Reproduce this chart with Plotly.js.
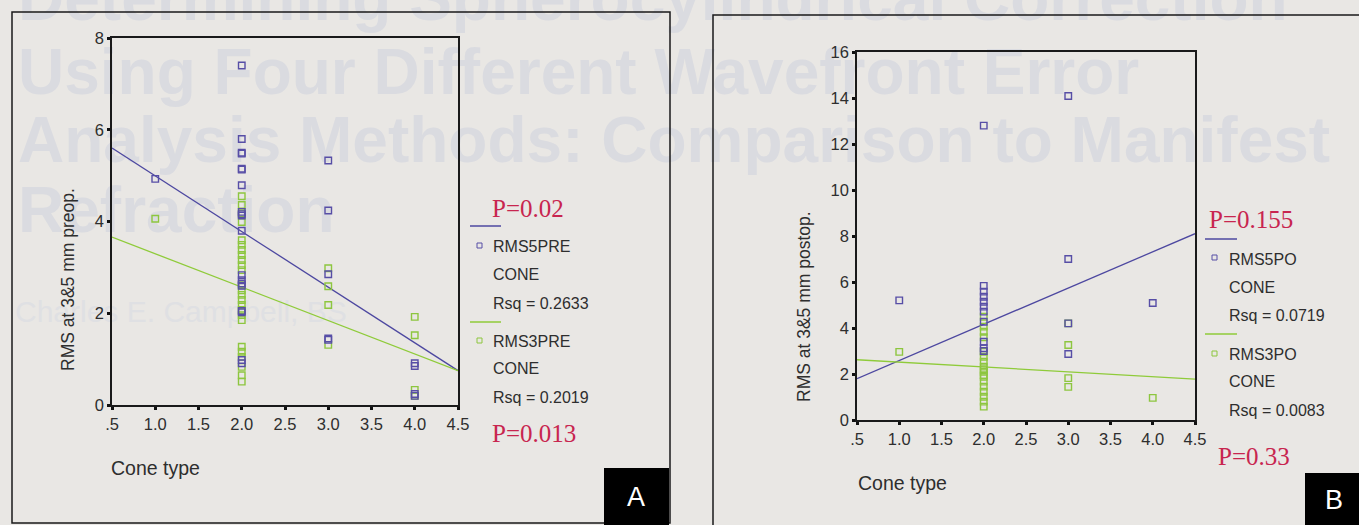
<!DOCTYPE html>
<html>
<head>
<meta charset="utf-8">
<script src="https://cdn.plot.ly/plotly-3.0.1.min.js"></script>
<style>
  html, body { margin: 0; padding: 0; background: #e9e7e4; }
  #wrap { position: relative; width: 1359px; height: 525px; overflow: hidden; }
  #bleed { position: absolute; left: 0; top: 0; width: 1359px; height: 525px; z-index: 0;
           font-family: "Liberation Sans", Arial, sans-serif; color: #dadbe0; white-space: nowrap; }
  #bleed div { position: absolute; font-weight: bold; font-size: 64px; line-height: 1; }
  #chart { position: absolute; left: 0; top: 0; z-index: 1; }
</style>
</head>
<body>
<div id="wrap">
  <div id="bleed">
    <div style="left:18px; top:-34px;">Determining Spherocylindrical Correction</div>
    <div style="left:18px; top:40px;">Using Four Different Wavefront Error</div>
    <div style="left:18px; top:108px;">Analysis Methods: Comparison to Manifest</div>
    <div style="left:18px; top:178px;">Refraction</div>
    <div style="left:15px; top:297px; font-weight:normal; font-size:30px; color:#dfe0e3;">Charles E. Campbell, BS</div>
  </div>
  <div id="chart"></div>
</div>
<script>
// ---------- Panel A (preop) ----------
const coneA5 = [1,
  2,2,2,2,2,2,2,2,2,2,2,2,2,2,2,2,2,2,2,
  3,3,3,3,3,
  4,4,4,4];
const rms5pre = [4.93,
  7.40,5.80,5.50,5.48,5.15,5.13,4.79,4.21,4.16,4.13,3.80,2.83,2.72,2.65,2.60,2.05,2.02,0.98,0.91,
  5.33,4.24,2.85,1.45,1.42,
  0.91,0.85,0.24,0.20];

const coneA3 = [1,
  2,2,2,2,2,2,2,2,2,2,2,2,2,2,2,2,2,2,2,2,2,2,2,2,2,
  3,3,3,3,
  4,4,4,4];
const rms3pre = [4.06,
  4.55,4.36,4.18,3.99,3.59,3.49,3.38,3.27,3.16,3.05,2.94,2.61,2.50,2.40,2.29,2.18,2.07,1.96,1.85,1.27,1.16,1.05,0.83,0.65,0.51,
  2.98,2.59,2.18,1.31,
  1.92,1.52,0.33,0.20];

const fitX = [0.5, 4.5];
const fitA5 = [5.60, 0.75];
const fitA3 = [3.66, 0.75];

// ---------- Panel B (postop) ----------
const coneB5 = [1,
  2,2,2,2,2,2,2,2,2,2,2,
  3,3,3,3,
  4];
const rms5po = [5.20,
  12.80,5.83,5.58,5.36,5.14,4.93,4.71,4.27,3.40,3.12,3.00,
  14.09,7.00,4.20,2.87,
  5.09];

const coneB3 = [1,
  2,2,2,2,2,2,2,2,2,2,2,2,2,2,2,2,2,2,
  3,3,3,3,
  4];
const rms3po = [2.96,
  4.49,4.06,3.84,3.60,2.97,2.75,2.54,2.32,2.20,2.10,1.95,1.88,1.67,1.45,1.23,1.01,0.80,0.58,
  4.20,3.26,1.82,1.44,
  0.96];

const fitB5 = [1.80, 8.10];
const fitB3 = [2.62, 1.78];

const xTickVals = [0.5,1,1.5,2,2.5,3,3.5,4,4.5];
const xTickText = ['.5','1.0','1.5','2.0','2.5','3.0','3.5','4.0','4.5'];

// legend / label texts
const legA = ['RMS5PRE','CONE','Rsq = 0.2633','RMS3PRE','CONE','Rsq = 0.2019'];
const legB = ['RMS5PO','CONE','Rsq = 0.0719','RMS3PO','CONE','Rsq = 0.0083'];
const pA = ['P=0.02','P=0.013'];
const pB = ['P=0.155','P=0.33'];

// ---------- styling ----------
const W = 1359, H = 525;
const px = v => v / W;
const py = v => 1 - v / H;
const BLUE = '#574ea6';
const GREEN = '#8dc63f';
const BLUE_LINE = '#4d48a0';
const GREEN_LINE = '#8fcb3a';
const RED = '#c8254f';
const TXT = '#2e2e2e';
const SANS = 'Liberation Sans, Arial, sans-serif';
const SERIF = 'Liberation Serif, Times New Roman, serif';

function pts(x, y, color, xa, ya) {
  return {x: x, y: y, xaxis: xa, yaxis: ya, type: 'scatter', mode: 'markers', hoverinfo: 'x+y',
    marker: {symbol: 'square-open', size: 6.5, color: color, line: {width: 1.4, color: color}},
    showlegend: false, cliponaxis: false};
}
function fit(y, color, xa, ya) {
  return {x: fitX, y: y, xaxis: xa, yaxis: ya, type: 'scatter', mode: 'lines',
    line: {color: color, width: 1.3}, showlegend: false, hoverinfo: 'skip'};
}

const data = [
  fit(fitA5, BLUE_LINE, 'x', 'y'),
  fit(fitA3, GREEN_LINE, 'x', 'y'),
  pts(coneA3, rms3pre, GREEN, 'x', 'y'),
  pts(coneA5, rms5pre, BLUE, 'x', 'y'),
  fit(fitB5, BLUE_LINE, 'x2', 'y2'),
  fit(fitB3, GREEN_LINE, 'x2', 'y2'),
  pts(coneB3, rms3po, GREEN, 'x2', 'y2'),
  pts(coneB5, rms5po, BLUE, 'x2', 'y2')
];

function xax(domain, anchor) {
  return {domain: domain, anchor: anchor, range: [0.5, 4.5], tickvals: xTickVals, ticktext: xTickText,
    ticks: 'outside', ticklen: 3, tickwidth: 2.5, tickcolor: '#111',
    showline: true, mirror: true, linecolor: '#1a1a1a', linewidth: 1.6,
    showgrid: false, zeroline: false, tickfont: {family: SANS, size: 16.5, color: TXT}, fixedrange: true};
}
function yax(domain, anchor, max) {
  return {domain: domain, anchor: anchor, range: [0, max], dtick: 2, tick0: 0,
    ticks: 'outside', ticklen: 3, tickwidth: 2.5, tickcolor: '#111',
    showline: true, mirror: true, linecolor: '#1a1a1a', linewidth: 1.6,
    showgrid: false, zeroline: false, tickfont: {family: SANS, size: 16.5, color: TXT}, fixedrange: true};
}

const ann = [];
function txt(x, y, t, opts) {
  ann.push(Object.assign({xref: 'paper', yref: 'paper', x: px(x), y: py(y), text: t, showarrow: false,
    xanchor: 'left', yanchor: 'middle', font: {family: SANS, size: 16, color: TXT}}, opts || {}));
}
// Panel A texts
txt(68, 280, 'RMS at 3&5 mm preop.', {textangle: -90, xanchor: 'center', font: {family: SANS, size: 17.5, color: TXT}});
txt(109, 468, 'Cone type', {font: {family: SANS, size: 19.5, color: TXT}});
txt(490, 209, pA[0], {font: {family: SERIF, size: 25, color: RED}});
txt(491, 246, legA[0]); txt(491, 274, legA[1]); txt(491, 303, legA[2]);
txt(491, 341, legA[3]); txt(491, 368, legA[4]); txt(491, 397, legA[5]);
txt(490, 433, pA[1], {font: {family: SERIF, size: 25, color: RED}});
txt(636, 497, 'A', {xanchor: 'center', font: {family: SANS, size: 27, color: '#ffffff'}});
// Panel B texts
txt(804, 307, 'RMS at 3&5 mm postop.', {textangle: -90, xanchor: 'center', font: {family: SANS, size: 17.5, color: TXT}});
txt(856, 483, 'Cone type', {font: {family: SANS, size: 19.5, color: TXT}});
txt(1207, 219, pB[0], {font: {family: SERIF, size: 25, color: RED}});
txt(1227, 259, legB[0]); txt(1227, 287, legB[1]); txt(1227, 315, legB[2]);
txt(1227, 354, legB[3]); txt(1227, 381, legB[4]); txt(1227, 410, legB[5]);
txt(1216, 456, pB[1], {font: {family: SERIF, size: 25, color: RED}});
txt(1334, 500, 'B', {xanchor: 'center', font: {family: SANS, size: 27, color: '#ffffff'}});

function rect(x0, y0, x1, y1, opts) {
  return Object.assign({type: 'rect', xref: 'paper', yref: 'paper', x0: px(x0), x1: px(x1), y0: py(y1), y1: py(y0),
    line: {color: '#1a1a1a', width: 1.5}}, opts || {});
}
function hline(x0, x1, y, color) {
  return {type: 'line', xref: 'paper', yref: 'paper', x0: px(x0), x1: px(x1), y0: py(y), y1: py(y),
    line: {color: color, width: 1.5}};
}
const shapes = [
  rect(12, 12, 670, 523, {layer: 'below'}),
  rect(713, 15, 1380, 560, {layer: 'below'}),
  rect(604, 468, 669, 526, {fillcolor: '#000000', line: {width: 0}}),
  rect(1305, 473, 1362, 528, {fillcolor: '#000000', line: {width: 0}}),
  hline(470, 501, 226, BLUE_LINE),
  hline(470, 501, 322, GREEN_LINE),
  rect(477, 243, 482, 248, {line: {color: BLUE, width: 1}}),
  rect(477, 338, 482, 343, {line: {color: GREEN, width: 1}}),
  hline(1205, 1237, 239, BLUE_LINE),
  hline(1205, 1237, 334, GREEN_LINE),
  rect(1212, 255, 1217, 260, {line: {color: BLUE, width: 1}}),
  rect(1212, 351, 1217, 356, {line: {color: GREEN, width: 1}})
];

const layout = {
  width: W, height: H,
  margin: {l: 0, r: 0, t: 0, b: 0},
  paper_bgcolor: 'rgba(0,0,0,0)', plot_bgcolor: 'rgba(0,0,0,0)',
  showlegend: false,
  xaxis: xax([px(112), px(458)], 'y'),
  yaxis: yax([py(405), py(38)], 'x', 8),
  xaxis2: xax([px(857), px(1195)], 'y2'),
  yaxis2: yax([py(420), py(52)], 'x2', 16),
  annotations: ann,
  shapes: shapes
};

Plotly.newPlot('chart', data, layout, {displayModeBar: false});
</script>
</body>
</html>
